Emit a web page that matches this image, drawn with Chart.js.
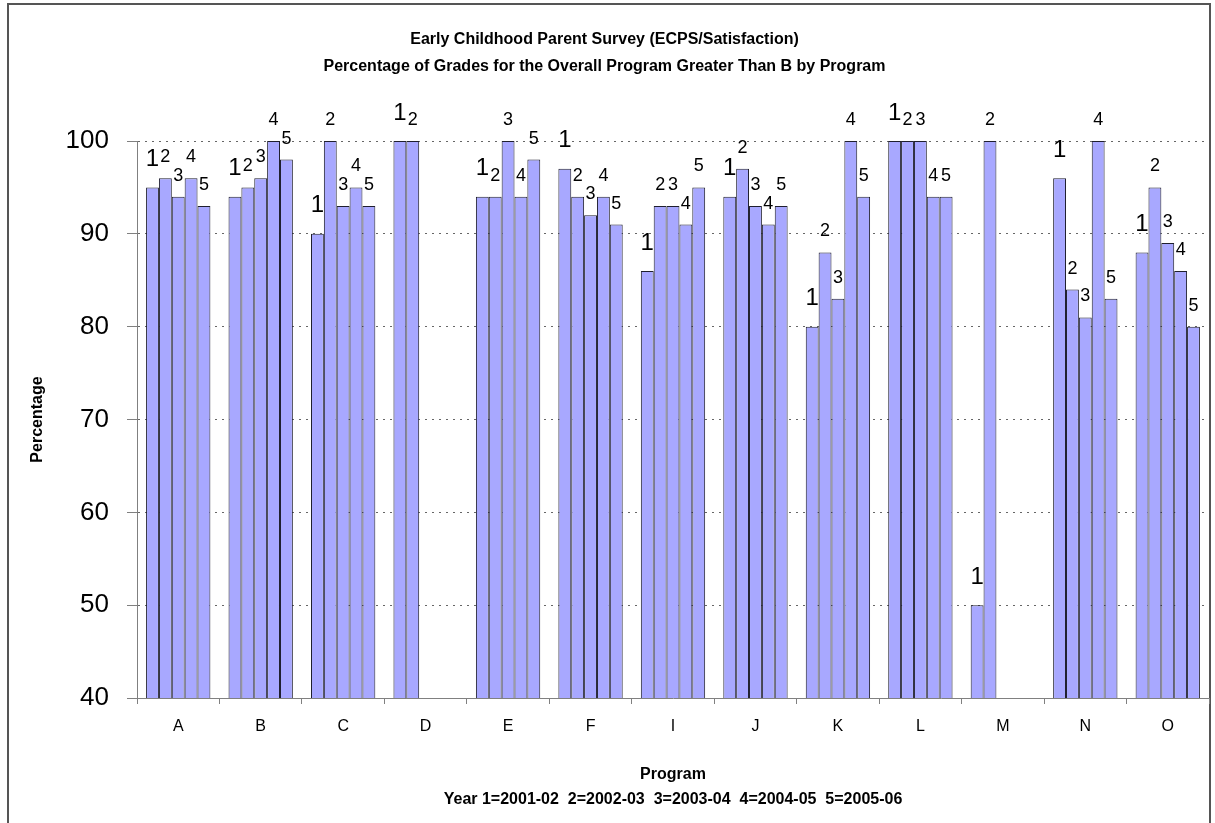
<!DOCTYPE html>
<html>
<head>
<meta charset="utf-8">
<title>Early Childhood Parent Survey</title>
<script src="https://cdn.jsdelivr.net/npm/chart.js@4.4.1/dist/chart.umd.min.js"></script>
<style>
  html, body { margin: 0; padding: 0; background: #fff; }
  #wrap { width: 1215px; height: 823px; }
</style>
</head>
<body>
<div id="wrap"><canvas id="gradesChart" width="1215" height="823"></canvas></div>
<script>
const programs = ['A', 'B', 'C', 'D', 'E', 'F', 'I', 'J', 'K', 'L', 'M', 'N', 'O']
const yearCodes = ['1', '2', '3', '4', '5']
// percent of grades above B, one array per survey year (null = not surveyed)
const year1 = [95, 94, 90, 100, 94, 97, 86, 94, 80, 100, 50, 96, 88]
const year2 = [96, 95, 100, 100, 94, 94, 93, 97, 88, 100, 100, 84, 95]
const year3 = [94, 96, 93, null, 100, 92, 93, 93, 83, 100, null, 81, 89]
const year4 = [96, 100, 95, null, 94, 94, 91, 91, 100, 94, null, 100, 86]
const year5 = [93, 98, 93, null, 98, 91, 95, 93, 94, 94, null, 83, 80]
const yTicks = [40, 50, 60, 70, 80, 90, 100]

const titleLines = [
  'Early Childhood Parent Survey (ECPS/Satisfaction)',
  'Percentage of Grades for the Overall Program Greater Than B by Program'
]
const xTitleLines = [
  'Program',
  'Year 1=2001-02  2=2002-03  3=2003-04  4=2004-05  5=2005-06'
]

const barFill = '#a8a8ff'
const barEdge = '#1f1f2e'

// white page with the chart frame around it
const framePlugin = {
  id: 'frame',
  beforeDraw(chart) {
    const ctx = chart.ctx
    ctx.save()
    ctx.fillStyle = '#fff'
    ctx.fillRect(0, 0, chart.width, chart.height)
    ctx.strokeStyle = '#555'
    ctx.lineWidth = 2
    ctx.beginPath()
    ctx.moveTo(8, chart.height)
    ctx.lineTo(8, 4)
    ctx.lineTo(1210, 4)
    ctx.lineTo(1210, chart.height)
    ctx.stroke()
    ctx.restore()
  }
}

// year number written over each bar
const yearLabels = {
  id: 'yearLabels',
  afterDatasetsDraw(chart) {
    const ctx = chart.ctx
    ctx.save()
    ctx.fillStyle = '#000'
    ctx.textAlign = 'center'
    ctx.textBaseline = 'middle'
    chart.data.datasets.forEach((ds, i) => {
      const meta = chart.getDatasetMeta(i)
      const big = i === 0
      ctx.font = (big ? 24 : 18) + 'px Arial, "Liberation Sans", sans-serif'
      meta.data.forEach((bar, j) => {
        if (ds.data[j] == null) return
        ctx.fillText(yearCodes[i], bar.x, bar.y - (big ? 28 : 21))
      })
    })
    ctx.restore()
  }
}

const series = [year1, year2, year3, year4, year5]

const ctx = document.getElementById('gradesChart').getContext('2d')
new Chart(ctx, {
  type: 'bar',
  data: {
    labels: programs,
    datasets: series.map((values, i) => ({
      label: yearCodes[i],
      data: values,
      backgroundColor: barFill,
      borderColor: barEdge,
      borderWidth: 1,
      categoryPercentage: 0.78,
      barPercentage: 1.0
    }))
  },
  options: {
    responsive: false,
    animation: false,
    devicePixelRatio: 1,
    layout: { padding: { left: 0, right: 6, top: 0, bottom: 0 } },
    plugins: {
      legend: { display: false },
      tooltip: { enabled: false },
      title: {
        display: true,
        text: titleLines,
        color: '#000',
        font: { family: 'Arial, "Liberation Sans", sans-serif', size: 16, weight: 'bold', lineHeight: 27 / 16 },
        padding: { top: 26.5, bottom: 60.5 }
      }
    },
    scales: {
      x: {
        afterFit: scale => { scale.height = 125 },
        grid: { drawOnChartArea: false, drawTicks: true, tickLength: 6, tickColor: '#808080', offset: true },
        border: { display: true, color: '#808080', width: 1 },
        ticks: {
          color: '#000',
          padding: 13,
          font: { family: 'Arial, "Liberation Sans", sans-serif', size: 16 }
        },
        title: {
          display: true,
          text: xTitleLines,
          color: '#000',
          font: { family: 'Arial, "Liberation Sans", sans-serif', size: 16, weight: 'bold', lineHeight: 25 / 16 },
          padding: { top: 0, bottom: 10.5 }
        }
      },
      y: {
        min: 40,
        max: 100,
        afterFit: scale => { scale.width = 137 },
        afterBuildTicks: scale => { scale.ticks = yTicks.map(v => ({ value: v })) },
        grid: { color: '#666', lineWidth: 1, tickLength: 10, tickColor: '#808080', drawTicks: true },
        border: { display: true, color: '#808080', width: 1, dash: [2, 5] },
        ticks: {
          color: '#000',
          padding: 18,
          font: { family: 'Arial, "Liberation Sans", sans-serif', size: 26 }
        },
        title: {
          display: true,
          text: 'Percentage',
          color: '#000',
          font: { family: 'Arial, "Liberation Sans", sans-serif', size: 16, weight: 'bold' },
          padding: { top: 28.4, bottom: 0 }
        }
      }
    }
  },
  plugins: [framePlugin, yearLabels]
})
</script>
</body>
</html>
